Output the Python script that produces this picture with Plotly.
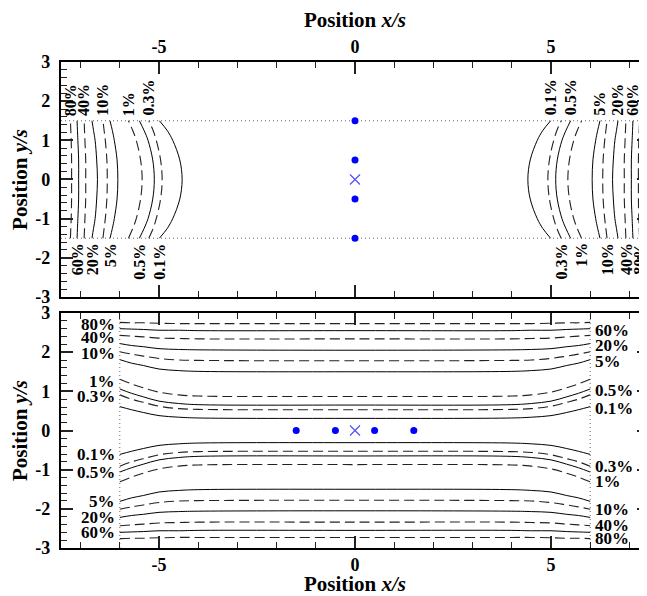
import plotly.graph_objects as go

# ---------------- data ----------------
LEVELS = ["0.1%", "0.3%", "0.5%", "1%", "5%", "10%", "20%", "40%", "60%", "80%"]
DASHED = [False, True, False, True, False, True, False, True, False, True]

# top panel (in-line array): x position of each contour (left side) at y = 0, 0.5, 1.0, 1.25, 1.5
TOP_Y_HALF = [0.0, 0.5, 1.0, 1.25, 1.5]
TOP_X_01 = [-4.41, -4.47, -4.65, -4.79, -4.99]
TOP_X_03 = [-4.92, -4.96, -5.07, -5.15, -5.26]
TOP_X_05 = [-5.12, -5.16, -5.28, -5.38, -5.50]
TOP_X_1 = [-5.43, -5.47, -5.58, -5.67, -5.78]
TOP_X_5 = [-6.05, -6.07, -6.14, -6.19, -6.25]
TOP_X_10 = [-6.32, -6.33, -6.37, -6.40, -6.43]
TOP_X_20 = [-6.57, -6.59, -6.63, -6.67, -6.71]
TOP_X_40 = [-6.87, -6.87, -6.89, -6.90, -6.91]
TOP_X_60 = [-7.05, -7.05, -7.07, -7.08, -7.09]
TOP_X_80 = [-7.23, -7.23, -7.24, -7.25, -7.26]
TOP_X = [TOP_X_01, TOP_X_03, TOP_X_05, TOP_X_1, TOP_X_5,
         TOP_X_10, TOP_X_20, TOP_X_40, TOP_X_60, TOP_X_80]

# bottom panel (side-by-side array): y position of each contour (upper side) at these x
BOT_X_HALF = [-6.0, -5.7, -5.4, -5.0, -4.5, -4.0, 0.0]
BOT_Y_01 = [0.61, 0.53, 0.46, 0.38, 0.34, 0.32, 0.31]
BOT_Y_03 = [0.91, 0.80, 0.72, 0.62, 0.56, 0.54, 0.53]
BOT_Y_05 = [1.06, 0.95, 0.86, 0.75, 0.69, 0.66, 0.65]
BOT_Y_1 = [1.31, 1.19, 1.09, 0.98, 0.91, 0.88, 0.87]
BOT_Y_5 = [1.81, 1.72, 1.66, 1.57, 1.53, 1.51, 1.50]
BOT_Y_10 = [2.01, 1.95, 1.90, 1.84, 1.80, 1.79, 1.78]
BOT_Y_20 = [2.22, 2.17, 2.14, 2.09, 2.07, 2.06, 2.05]
BOT_Y_40 = [2.43, 2.41, 2.39, 2.36, 2.35, 2.34, 2.34]
BOT_Y_60 = [2.60, 2.59, 2.58, 2.56, 2.56, 2.55, 2.55]
BOT_Y_80 = [2.76, 2.75, 2.75, 2.74, 2.73, 2.73, 2.73]
BOT_Y = [BOT_Y_01, BOT_Y_03, BOT_Y_05, BOT_Y_1, BOT_Y_5,
         BOT_Y_10, BOT_Y_20, BOT_Y_40, BOT_Y_60, BOT_Y_80]

# source points
TOP_DOTS_X = [0, 0, 0, 0]
TOP_DOTS_Y = [1.5, 0.5, -0.5, -1.5]
BOT_DOTS_X = [-1.5, -0.5, 0.5, 1.5]
BOT_DOTS_Y = [0, 0, 0, 0]
CENTER_X = [0]
CENTER_Y = [0]

# boundaries (dotted)
TOP_BOUND_Y = [1.5, -1.5]
BOT_BOUND_X = [-6.0, 6.0]

# ticks
X_TICK_VALS = [-5, 0, 5]
X_TICK_TEXT = ["-5", "0", "5"]
Y_TICK_VALS = [-3, -2, -1, 0, 1, 2, 3]
Y_TICK_TEXT = ["-3", "-2", "-1", "0", "1", "2", "3"]

X_RANGE = [-7.5, 7.5]
Y_RANGE = [-3, 3]

# ---------------- figure ----------------
FONT = "Liberation Serif"
fig = go.Figure()

def line_style(d):
    if d:
        return dict(color="#222222", width=1.1, dash="10px,5px")
    return dict(color="black", width=1.0)

# top panel arcs
for xs, d in zip(TOP_X, DASHED):
    yy = [-v for v in reversed(TOP_Y_HALF[1:])] + TOP_Y_HALF
    xx = list(reversed(xs[1:])) + xs
    fig.add_trace(go.Scatter(x=xx, y=yy, mode="lines", line=dict(shape="spline", **line_style(d)),
                             xaxis="x", yaxis="y", hoverinfo="skip", showlegend=False))
    fig.add_trace(go.Scatter(x=[-v for v in xx], y=yy, mode="lines", line=dict(shape="spline", **line_style(d)),
                             xaxis="x", yaxis="y", hoverinfo="skip", showlegend=False))

# bottom panel curves
for ys, d in zip(BOT_Y, DASHED):
    xx = BOT_X_HALF + [-v for v in reversed(BOT_X_HALF[:-1])]
    yy = ys + list(reversed(ys[:-1]))
    fig.add_trace(go.Scatter(x=xx, y=yy, mode="lines", line=dict(shape="spline", **line_style(d)),
                             xaxis="x2", yaxis="y2", hoverinfo="skip", showlegend=False))
    fig.add_trace(go.Scatter(x=xx, y=[-v for v in yy], mode="lines", line=dict(shape="spline", **line_style(d)),
                             xaxis="x2", yaxis="y2", hoverinfo="skip", showlegend=False))

# dotted boundaries
for yb in TOP_BOUND_Y:
    fig.add_trace(go.Scatter(x=X_RANGE, y=[yb, yb], mode="lines",
                             line=dict(color="#666666", width=1, dash="1px,3px"),
                             xaxis="x", yaxis="y", hoverinfo="skip", showlegend=False))
for xb in BOT_BOUND_X:
    fig.add_trace(go.Scatter(x=[xb, xb], y=Y_RANGE, mode="lines",
                             line=dict(color="#666666", width=1, dash="1px,3px"),
                             xaxis="x2", yaxis="y2", hoverinfo="skip", showlegend=False))

# markers
fig.add_trace(go.Scatter(x=TOP_DOTS_X, y=TOP_DOTS_Y, mode="markers",
                         marker=dict(color="#0000ff", size=7), xaxis="x", yaxis="y", showlegend=False))
fig.add_trace(go.Scatter(x=CENTER_X, y=CENTER_Y, mode="markers",
                         marker=dict(symbol="x-thin", color="#5050ff", size=10, line=dict(color="#5050ff", width=1.2)),
                         xaxis="x", yaxis="y", showlegend=False))
fig.add_trace(go.Scatter(x=BOT_DOTS_X, y=BOT_DOTS_Y, mode="markers",
                         marker=dict(color="#0000ff", size=7), xaxis="x2", yaxis="y2", showlegend=False))
fig.add_trace(go.Scatter(x=CENTER_X, y=CENTER_Y, mode="markers",
                         marker=dict(symbol="x-thin", color="#5050ff", size=10, line=dict(color="#5050ff", width=1.2)),
                         xaxis="x2", yaxis="y2", showlegend=False))

# contour labels
lab_font = dict(family=FONT, size=17, color="black", weight="bold")
top_font = dict(family=FONT, size=16, color="black", weight="bold")
ann = []
for lvl, xs, d in zip(LEVELS, TOP_X, DASHED):
    xe = xs[-1]
    if d:
        places = [(xe, TOP_BOUND_Y[0], "bottom", 3), (-xe, TOP_BOUND_Y[1], "top", -3)]
    else:
        places = [(xe, TOP_BOUND_Y[1], "top", -3), (-xe, TOP_BOUND_Y[0], "bottom", 3)]
    for (x, y, ya, sh) in places:
        ann.append(dict(x=x, y=y, xref="x", yref="y", text=lvl, textangle=-90, showarrow=False,
                        xanchor="center", yanchor=ya, yshift=sh, font=top_font))
for lvl, ys, d in zip(LEVELS, BOT_Y, DASHED):
    ye = ys[0]
    if d:
        places = [(BOT_BOUND_X[0], ye, "right", -3, -2), (BOT_BOUND_X[1], -ye, "left", 3, 0)]
    else:
        places = [(BOT_BOUND_X[0], -ye, "right", -3, 0), (BOT_BOUND_X[1], ye, "left", 3, -2)]
    for (x, y, xa, xs_, ys_) in places:
        ann.append(dict(x=x, y=y, xref="x2", yref="y2", text=lvl, showarrow=False,
                        xanchor=xa, yanchor="middle", xshift=xs_, yshift=ys_, font=lab_font))

tick_font = dict(family=FONT, size=18, color="black", weight="bold")
title_font = dict(family=FONT, size=21, color="black", weight="bold")

def xax(side, anchor, lstand, tstand):
    return dict(range=X_RANGE, domain=[0, 1], anchor=anchor, side=side,
                tickmode="array", tickvals=X_TICK_VALS, ticktext=X_TICK_TEXT,
                ticks="inside", ticklen=12, tickwidth=1.5, tickcolor="#222222", mirror="ticks",
                showline=True, linewidth=2.4, linecolor="black",
                showgrid=False, zeroline=False, tickfont=tick_font, automargin=False,
                ticklabelstandoff=lstand,
                title=dict(text="Position <i>x/s</i>", font=title_font, standoff=tstand),
                minor=dict(tickmode="linear", tick0=0, dtick=1, ticks="inside", ticklen=6,
                           tickwidth=1.3, tickcolor="#222222"))

def yax(domain, anchor):
    return dict(range=Y_RANGE, domain=domain, anchor=anchor,
                tickmode="array", tickvals=Y_TICK_VALS, ticktext=Y_TICK_TEXT,
                ticks="inside", ticklen=12, tickwidth=1.5, tickcolor="#222222", mirror="ticks",
                showline=True, linewidth=2.4, linecolor="black",
                showgrid=False, zeroline=False, tickfont=tick_font, automargin=False,
                ticklabelstandoff=5,
                title=dict(text="Position <i>y/s</i>", font=title_font, standoff=4),
                minor=dict(tickmode="linear", tick0=0, dtick=0.2, ticks="inside", ticklen=6,
                           tickwidth=1.3, tickcolor="#222222"))

TOP_DOM = [0.5165, 1.0]
BOT_DOM = [0.0, 0.4835]

# the page body has an 8px margin; the right frame edge falls just outside the window,
# as in the reference
fig.update_layout(
    width=641, height=588, autosize=False,
    margin=dict(l=53, r=0, t=54, b=48, autoexpand=False),
    paper_bgcolor="white", plot_bgcolor="white",
    xaxis=xax("top", "y", 0, 11),
    yaxis=yax(TOP_DOM, "x"),
    xaxis2=xax("bottom", "y2", -1, 9),
    yaxis2=yax(BOT_DOM, "x2"),
    annotations=ann, showlegend=False,
)

fig.write_html("out.html")
